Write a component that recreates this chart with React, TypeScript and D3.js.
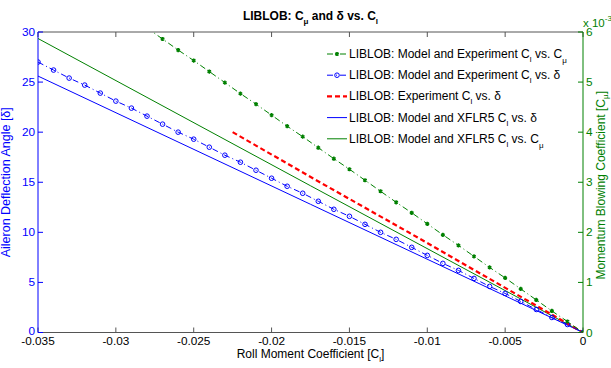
import { useEffect, useRef } from "react";
import * as d3 from "d3";

// roll moment coefficient grid (markers every 0.001)
const clGrid = [
  -0.035, -0.034, -0.033, -0.032, -0.031, -0.03, -0.029, -0.028, -0.027, -0.026,
  -0.025, -0.024, -0.023, -0.022, -0.021, -0.02, -0.019, -0.018, -0.017, -0.016,
  -0.015, -0.014, -0.013, -0.012, -0.011, -0.01, -0.009, -0.008, -0.007, -0.006,
  -0.005, -0.004, -0.003, -0.002, -0.001, 0,
];
// model and experiment Cl vs delta
const deltaModelExp = [
  27.0, 26.2, 25.4, 24.7, 23.9, 23.1, 22.4, 21.6, 20.8, 20.0,
  19.3, 18.5, 17.7, 17.0, 16.2, 15.4, 14.6, 13.9, 13.1, 12.3,
  11.6, 10.8, 10.0, 9.3, 8.5, 7.7, 6.9, 6.2, 5.4, 4.6,
  3.9, 3.1, 2.3, 1.5, 0.8, 0,
];
// model and experiment Cl vs Cmu (x 1e-3), from Cl = -0.028
const clMu = clGrid.slice(7);
const muModelExp = [
  6.08, 5.86, 5.64, 5.43, 5.21, 4.99, 4.77, 4.56, 4.34, 4.12,
  3.91, 3.69, 3.47, 3.26, 3.04, 2.82, 2.6, 2.39, 2.17, 1.95,
  1.74, 1.52, 1.3, 1.09, 0.87, 0.65, 0.43, 0.22, 0,
];
// experiment Cl vs delta
const clExp = [-0.0225, -0.0169, -0.0112, -0.0056, 0];
const deltaExp = [20, 15, 10, 5, 0];
// XFLR5 model
const clXflr = [-0.035, -0.0175, 0];
const deltaXflr = [25.6, 12.8, 0];
const muXflr = [5.87, 2.93, 0];

const xTicks = [-0.035, -0.03, -0.025, -0.02, -0.015, -0.01, -0.005, 0];
const yTicks = [0, 5, 10, 15, 20, 25, 30];
const y2Ticks = [0, 1, 2, 3, 4, 5, 6];

const BLUE = "#0000ff";
const GREEN = "#008000";
const RED = "#ff0000";
const FONT = "'Liberation Sans', Arial, sans-serif";

export default function App() {
  const ref = useRef<SVGSVGElement>(null);

  useEffect(() => {
    const svg = d3.select(ref.current);
    svg.selectAll("*").remove();
    const W = 611, H = 368;
    const m = { left: 38, right: 28, top: 32, bottom: 35.5 };

    const x = d3.scaleLinear().domain([-0.035, 0]).range([m.left, W - m.right]);
    const y = d3.scaleLinear().domain([0, 30]).range([H - m.bottom, m.top]);
    const y2 = d3.scaleLinear().domain([0, 6]).range([H - m.bottom, m.top]);

    svg.append("rect").attr("width", W).attr("height", H).attr("fill", "#fff");

    svg.append("defs").append("clipPath").attr("id", "plot")
      .append("rect").attr("x", m.left).attr("y", m.top)
      .attr("width", W - m.left - m.right).attr("height", H - m.top - m.bottom);

    const x0 = m.left, x1 = W - m.right, yT = m.top, yB = H - m.bottom;
    const tl = 5;

    // frame + ticks
    const fr = svg.append("g");
    fr.append("line").attr("x1", x0).attr("x2", x1).attr("y1", yT).attr("y2", yT).attr("stroke", "#555");
    fr.append("line").attr("x1", x0).attr("x2", x1).attr("y1", yB).attr("y2", yB).attr("stroke", "#555");
    xTicks.forEach((t) => {
      fr.append("line").attr("x1", x(t)).attr("x2", x(t)).attr("y1", yB).attr("y2", yB - tl).attr("stroke", "#555");
      fr.append("line").attr("x1", x(t)).attr("x2", x(t)).attr("y1", yT).attr("y2", yT + tl).attr("stroke", "#555");
      fr.append("text").attr("x", x(t)).attr("y", yB + 12.5).attr("text-anchor", "middle")
        .attr("font-size", 11.8).attr("font-family", FONT).attr("fill", "#000").text(String(t));
    });
    fr.append("line").attr("x1", x0).attr("x2", x0).attr("y1", yT).attr("y2", yB).attr("stroke", BLUE);
    yTicks.forEach((t) => {
      fr.append("line").attr("x1", x0).attr("x2", x0 + tl).attr("y1", y(t)).attr("y2", y(t)).attr("stroke", BLUE);
      fr.append("text").attr("x", x0 - 3).attr("y", y(t) + (t === 0 ? 2 : 4)).attr("text-anchor", "end")
        .attr("font-size", 11.8).attr("font-family", FONT).attr("fill", BLUE).text(String(t));
    });
    fr.append("line").attr("x1", x1).attr("x2", x1).attr("y1", yT).attr("y2", yB).attr("stroke", GREEN);
    y2Ticks.forEach((t) => {
      fr.append("line").attr("x1", x1).attr("x2", x1 - tl).attr("y1", y2(t)).attr("y2", y2(t)).attr("stroke", GREEN);
      fr.append("text").attr("x", x1 + 3).attr("y", y2(t) + 4).attr("text-anchor", "start")
        .attr("font-size", 11.8).attr("font-family", FONT).attr("fill", GREEN).text(String(t));
    });
    const ex = fr.append("text").attr("x", x1 + 0).attr("y", 27).attr("font-size", 11.5)
      .attr("font-family", FONT).attr("fill", GREEN);
    ex.append("tspan").text("x 10");
    ex.append("tspan").attr("dy", -6).attr("font-size", 8).text("-3");

    // data lines
    const g = svg.append("g").attr("clip-path", "url(#plot)");
    const line = (xs: number[], ys: number[], sy: d3.ScaleLinear<number, number>) =>
      d3.line<number>().x((_, i) => x(xs[i])).y((d) => sy(d))(ys);

    g.append("path").attr("d", line(clXflr, muXflr, y2)).attr("fill", "none").attr("stroke", GREEN).attr("stroke-width", 1);
    g.append("path").attr("d", line(clXflr, deltaXflr, y)).attr("fill", "none").attr("stroke", BLUE).attr("stroke-width", 1);
    g.append("path").attr("d", line(clExp, deltaExp, y)).attr("fill", "none").attr("stroke", RED)
      .attr("stroke-width", 2.2).attr("stroke-dasharray", "5,3");
    g.append("path").attr("d", line(clGrid, deltaModelExp, y)).attr("fill", "none").attr("stroke", BLUE)
      .attr("stroke-width", 1).attr("stroke-dasharray", "6,3,1,3");
    g.append("path").attr("d", line(clMu, muModelExp, y2)).attr("fill", "none").attr("stroke", GREEN)
      .attr("stroke-width", 1).attr("stroke-dasharray", "6,3,1,3");

    const star = d3.symbol(d3.symbolAsterisk, 12)();
    g.selectAll(".c").data(deltaModelExp).join("circle")
      .attr("cx", (_, i) => x(clGrid[i])).attr("cy", (d) => y(d)).attr("r", 2.3)
      .attr("fill", "none").attr("stroke", BLUE).attr("stroke-width", 1);
    g.selectAll(".s").data(muModelExp).join("path")
      .attr("d", star).attr("transform", (d, i) => `translate(${x(clMu[i])},${y2(d)})`)
      .attr("fill", "none").attr("stroke", GREEN).attr("stroke-width", 1.5);

    // legend
    const items = [
      { c: GREEN, dash: "6,3,1,3", w: 1, mk: "star", txt: ["LIBLOB: Model and Experiment C", "l", " vs. C", "μ"] },
      { c: BLUE, dash: "6,3,1,3", w: 1, mk: "circle", txt: ["LIBLOB: Model and Experiment C", "l", " vs. δ", ""] },
      { c: RED, dash: "5,3", w: 2.2, mk: "", txt: ["LIBLOB: Experiment C", "l", " vs. δ", ""] },
      { c: BLUE, dash: "", w: 1, mk: "", txt: ["LIBLOB: Model and XFLR5 C", "l", " vs. δ", ""] },
      { c: GREEN, dash: "", w: 1, mk: "", txt: ["LIBLOB: Model and XFLR5 C", "l", " vs. C", "μ"] },
    ];
    const lg = svg.append("g");
    items.forEach((it, i) => {
      const ly = 54 + i * 21.2;
      lg.append("line").attr("x1", 327).attr("x2", 347).attr("y1", ly).attr("y2", ly)
        .attr("stroke", it.c).attr("stroke-width", it.w).attr("stroke-dasharray", it.dash || null);
      if (it.mk === "circle") {
        lg.append("circle").attr("cx", 337).attr("cy", ly).attr("r", 2.3).attr("fill", "none").attr("stroke", it.c);
      } else if (it.mk === "star") {
        lg.append("path").attr("d", star).attr("transform", `translate(337,${ly})`)
          .attr("fill", "none").attr("stroke", it.c).attr("stroke-width", 1.5);
      }
      const t = lg.append("text").attr("x", 349).attr("y", ly + 4).attr("font-size", 12)
        .attr("font-family", FONT).attr("fill", "#000");
      t.append("tspan").text(it.txt[0]);
      t.append("tspan").attr("dy", 4).attr("font-size", 8).text(it.txt[1]);
      t.append("tspan").attr("dy", -4).text(it.txt[2]);
      if (it.txt[3]) t.append("tspan").attr("dy", 5).attr("font-size", 8).text(it.txt[3]);
    });

    // title
    const tt = svg.append("text").attr("x", (x0 + x1) / 2).attr("y", 20).attr("text-anchor", "middle")
      .attr("font-size", 12).attr("font-weight", "bold").attr("font-family", FONT);
    tt.append("tspan").text("LIBLOB: C");
    tt.append("tspan").attr("dy", 4).attr("font-size", 8).text("μ");
    tt.append("tspan").attr("dy", -4).text(" and δ vs. C");
    tt.append("tspan").attr("dy", 4).attr("font-size", 8).text("l");

    // axis labels
    const xl = svg.append("text").attr("x", (x0 + x1) / 2).attr("y", 358).attr("text-anchor", "middle")
      .attr("font-size", 12).attr("font-family", FONT).attr("fill", "#000");
    xl.append("tspan").text("Roll Moment Coefficient [C");
    xl.append("tspan").attr("dy", 4).attr("font-size", 8).text("l");
    xl.append("tspan").attr("dy", -4).text("]");

    svg.append("text").attr("transform", `translate(10,${(yT + yB) / 2}) rotate(-90)`)
      .attr("text-anchor", "middle").attr("font-size", 12.5).attr("font-family", FONT)
      .attr("fill", BLUE).text("Aileron Deflection Angle [δ]");

    const rl = svg.append("text").attr("transform", `translate(605,${(yT + yB) / 2 + 3}) rotate(-90)`)
      .attr("text-anchor", "middle").attr("font-size", 12).attr("font-family", FONT).attr("fill", GREEN);
    rl.append("tspan").text("Momentum Blowing Coefficient [C");
    rl.append("tspan").attr("dy", 3).attr("font-size", 8).text("μ");
    rl.append("tspan").attr("dy", -3).text("]");
  }, []);

  return (
    <svg ref={ref} width={611} height={368}
      style={{ position: "absolute", left: 0, top: 0, display: "block" }} />
  );
}
